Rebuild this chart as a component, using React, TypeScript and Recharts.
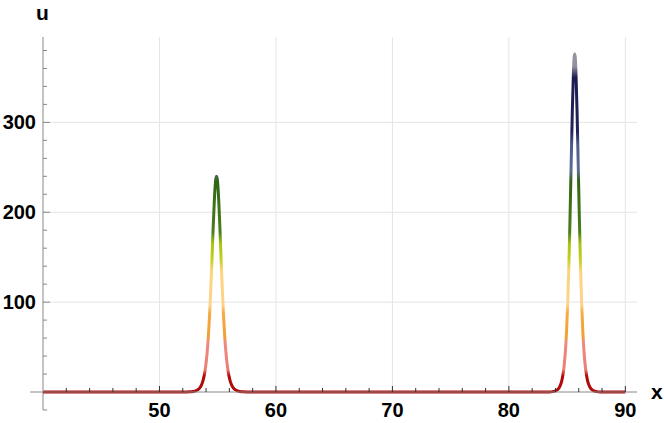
import React from "react";
import { LineChart, Line, XAxis, YAxis, CartesianGrid, ReferenceLine } from "recharts";

// flat part of the solution (u ~ 0)
const flatX = [40, 45, 50, 52, 58, 60, 65, 70, 75, 80, 82.5, 89, 90];

// first soliton, near x = 55
const leftPeakX = [
  52.3, 52.6, 52.9, 53.1, 53.3, 53.4, 53.5, 53.6, 53.7, 53.8, 53.9, 54.0, 54.1, 54.2, 54.3, 54.4,
  54.5, 54.6, 54.7, 54.8, 54.85, 54.9, 54.95, 55.0, 55.1, 55.2, 55.3, 55.4, 55.5, 55.6, 55.7,
  55.8, 55.9, 56.0, 56.1, 56.2, 56.3, 56.4, 56.5, 56.7, 56.9, 57.2, 57.5,
];
const leftPeakU = [
  0.06, 0.19, 0.59, 1.2, 2.6, 3.7, 5.3, 7.7, 11, 16, 22.6, 32, 45, 62.5, 85, 113,
  145, 179, 210, 232, 238, 240, 238, 232, 210, 179, 145, 113, 85, 62.5, 45,
  32, 22.6, 16, 11, 7.7, 5.3, 3.7, 2.6, 1.2, 0.59, 0.19, 0.06,
];

// second, taller soliton near x = 85.7
const rightPeakX = [
  83.05, 83.45, 83.75, 83.95, 84.15, 84.25, 84.35, 84.45, 84.55, 84.65, 84.75, 84.85, 84.95,
  85.05, 85.15, 85.25, 85.35, 85.45, 85.55, 85.6, 85.65, 85.7, 85.75, 85.85, 85.95, 86.05,
  86.15, 86.25, 86.35, 86.45, 86.55, 86.65, 86.75, 86.85, 86.95, 87.05, 87.15, 87.35, 87.55,
  87.85, 88.25,
];
const rightPeakU = [
  0.02, 0.12, 0.43, 1.0, 2.4, 3.6, 5.5, 8.5, 13, 20, 30, 45, 67,
  98.5, 140, 194, 255, 314, 359, 372, 376, 372, 359, 314, 255, 194,
  140, 98.5, 67, 45, 30, 20, 13, 8.5, 5.5, 3.6, 2.4, 1.0, 0.43,
  0.12, 0.02,
];

const xTicks = [42, 44, 46, 48, 50, 52, 54, 56, 58, 60, 62, 64, 66, 68, 70, 72, 74, 76, 78, 80, 82, 84, 86, 88, 90];
const xLabels = [50, 60, 70, 80, 90];
const yTicks = [20, 40, 60, 80, 100, 120, 140, 160, 180, 200, 220, 240, 260, 280, 300, 320, 340, 360, 380];
const yLabels = [100, 200, 300];

const data = [
  ...flatX.map((x) => ({ x, u: 0 })),
  ...leftPeakX.map((x, i) => ({ x, u: leftPeakU[i] })),
  ...rightPeakX.map((x, i) => ({ x, u: rightPeakU[i] })),
].sort((a, b) => a.x - b.x);

const FONT = "'Liberation Sans', Arial, sans-serif";
const Y_TOP = 395;
const PLOT_TOP = 37;
const PLOT_BOTTOM = 392;

// colour bands by height, same as the picture
const bands = [
  [0, "#b00a0a"], [18, "#b00a0a"], [25, "#ec7d74"], [55, "#ee8a80"], [62, "#f2a034"],
  [88, "#f4aa42"], [97, "#fdd38a"], [135, "#fbd47c"], [148, "#c3cf20"], [165, "#a9c315"],
  [178, "#4a7e1c"], [235, "#2f6614"], [246, "#5c6d93"], [275, "#4e5d8a"], [290, "#20235a"],
  [350, "#1c1c50"], [362, "#948e9e"], [395, "#9c98a4"],
] as const;

const XTick = (props: any) => {
  const { x, y, payload } = props;
  const v = payload.value;
  const major = xLabels.includes(v);
  return (
    <g>
      <line x1={x} x2={x} y1={y} y2={y - (major ? 6 : 4)} stroke="#333" strokeWidth={1} />
      {major && (
        <text x={x} y={y + 25} textAnchor="middle" fontFamily={FONT} fontWeight="bold" fontSize={20} fill="#000">
          {v}
        </text>
      )}
    </g>
  );
};

const YTick = (props: any) => {
  const { x, y, payload } = props;
  const v = payload.value;
  const major = yLabels.includes(v);
  return (
    <g>
      <line x1={x} x2={x + (major ? 7 : 4)} y1={y} y2={y} stroke="#888" strokeWidth={1} />
      {major && (
        <text x={x - 7} y={y + 7} textAnchor="end" fontFamily={FONT} fontWeight="bold" fontSize={20} fill="#000">
          {v}
        </text>
      )}
    </g>
  );
};

export default function App() {
  return (
    <div style={{ position: "absolute", left: 0, top: 0, width: 664, height: 423, background: "#fff" }}>
      <LineChart width={664} height={423} data={data} margin={{ top: PLOT_TOP, right: 27, bottom: 0, left: 0 }}>
        <defs>
          <linearGradient id="uGrad" gradientUnits="userSpaceOnUse" x1="0" y1={PLOT_BOTTOM} x2="0" y2={PLOT_TOP}>
            {bands.map(([u, c], i) => (
              <stop key={i} offset={u / Y_TOP} stopColor={c} />
            ))}
          </linearGradient>
        </defs>
        <CartesianGrid
          stroke="#e4e4e4"
          horizontalValues={yLabels}
          verticalValues={xLabels}
        />
        <XAxis
          type="number"
          dataKey="x"
          domain={[40, 91]}
          ticks={xTicks}
          interval={0}
          height={31}
          tickSize={0}
          tickMargin={0}
          tickLine={false}
          axisLine={{ stroke: "#888" }}
          tick={<XTick />}
        />
        <YAxis
          type="number"
          domain={[0, Y_TOP]}
          ticks={yTicks}
          interval={0}
          width={43}
          tickSize={0}
          tickMargin={0}
          tickLine={false}
          axisLine={{ stroke: "#888" }}
          tick={<YTick />}
        />
        <ReferenceLine segment={[{ x: 38.9, y: 0 }, { x: 40, y: 0 }]} stroke="#888" ifOverflow="visible" />
        <ReferenceLine segment={[{ x: 40, y: -20 }, { x: 40, y: 0 }]} stroke="#888" ifOverflow="visible" />
        <ReferenceLine segment={[{ x: 40, y: -20 }, { x: 40.35, y: -20 }]} stroke="#888" ifOverflow="visible" />
        <Line
          type="monotone"
          dataKey="u"
          stroke="url(#uGrad)"
          strokeWidth={3}
          dot={false}
          isAnimationActive={false}
        />
      </LineChart>
      <span style={{ position: "absolute", left: 36, top: 2, lineHeight: 1, fontFamily: FONT, fontWeight: "bold", fontSize: 21 }}>u</span>
      <span style={{ position: "absolute", left: 651, top: 381, lineHeight: 1, fontFamily: FONT, fontWeight: "bold", fontSize: 21 }}>x</span>
    </div>
  );
}
